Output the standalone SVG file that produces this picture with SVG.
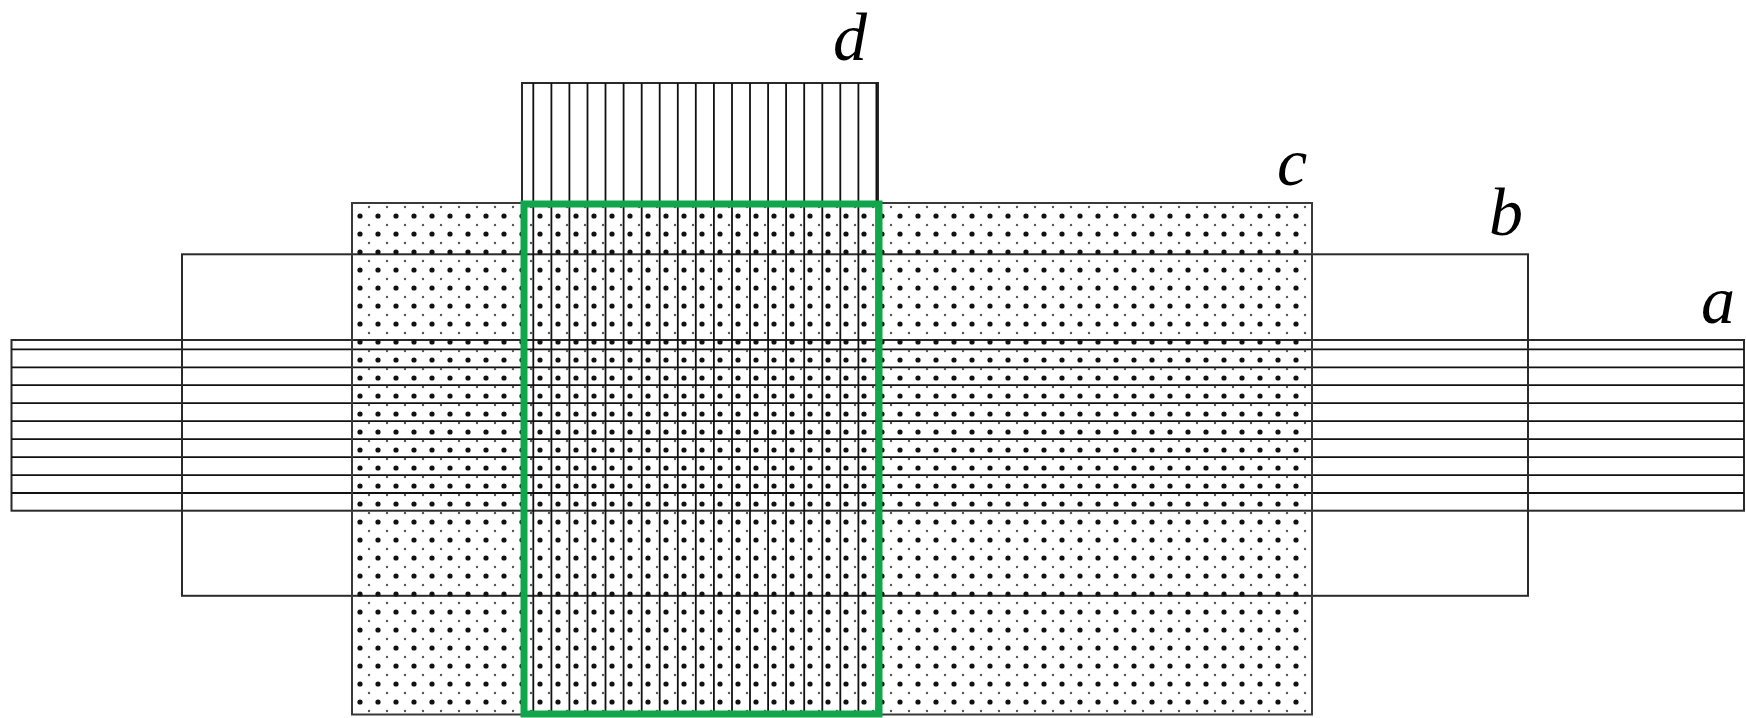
<svg xmlns="http://www.w3.org/2000/svg" width="1746" height="718" viewBox="0 0 1746 718">
<style>
.edge{fill:none;stroke:#2a2a2a;stroke-width:2}
.hatch{stroke:#111;stroke-width:1.8}
.lbl{font-family:"Liberation Serif","DejaVu Serif",serif;font-style:italic;font-size:68px;fill:#000;text-anchor:middle}
</style>
<defs>
<pattern id="dots" x="360" y="216" width="18" height="18" patternUnits="userSpaceOnUse">
<circle cx="0" cy="0" r="2.6" fill="#111"/>
<circle cx="18" cy="0" r="2.6" fill="#111"/>
<circle cx="0" cy="18" r="2.6" fill="#111"/>
<circle cx="18" cy="18" r="2.6" fill="#111"/>
<circle cx="9" cy="9" r="1.2" fill="#555"/>
</pattern>
</defs>
<rect width="1746" height="718" fill="#fff"/>
<g id="node-a">
<rect class="edge" x="11.5" y="340" width="1732.5" height="170.7"/>
<g class="hatch">
<line x1="11.5" y1="349.3" x2="1744" y2="349.3"/>
<line x1="11.5" y1="367.3" x2="1744" y2="367.3"/>
<line x1="11.5" y1="385.2" x2="1744" y2="385.2"/>
<line x1="11.5" y1="403.2" x2="1744" y2="403.2"/>
<line x1="11.5" y1="421.2" x2="1744" y2="421.2"/>
<line x1="11.5" y1="439.1" x2="1744" y2="439.1"/>
<line x1="11.5" y1="457.1" x2="1744" y2="457.1"/>
<line x1="11.5" y1="475.1" x2="1744" y2="475.1"/>
<line x1="11.5" y1="493" x2="1744" y2="493"/>
</g>
<text class="lbl" x="1718" y="323">a</text>
</g>
<g id="node-b">
<rect class="edge" x="182" y="254.3" width="1346" height="341.5" stroke="#111"/>
<text class="lbl" x="1506" y="235">b</text>
</g>
<g id="node-c">
<rect x="352" y="203" width="960" height="511.5" fill="url(#dots)" stroke="#3a3a3a" stroke-width="2"/>
<text class="lbl" x="1292" y="185">c</text>
</g>
<g id="node-d">
<rect class="edge" x="522" y="83" width="356" height="631.5"/>
<g class="hatch">
<line x1="533.3" y1="83" x2="533.3" y2="714"/>
<line x1="551.4" y1="83" x2="551.4" y2="714"/>
<line x1="569.4" y1="83" x2="569.4" y2="714"/>
<line x1="587.5" y1="83" x2="587.5" y2="714"/>
<line x1="605.5" y1="83" x2="605.5" y2="714"/>
<line x1="623.6" y1="83" x2="623.6" y2="714"/>
<line x1="641.7" y1="83" x2="641.7" y2="714"/>
<line x1="659.7" y1="83" x2="659.7" y2="714"/>
<line x1="677.8" y1="83" x2="677.8" y2="714"/>
<line x1="695.8" y1="83" x2="695.8" y2="714"/>
<line x1="713.9" y1="83" x2="713.9" y2="714"/>
<line x1="732" y1="83" x2="732" y2="714"/>
<line x1="750" y1="83" x2="750" y2="714"/>
<line x1="768.1" y1="83" x2="768.1" y2="714"/>
<line x1="786.1" y1="83" x2="786.1" y2="714"/>
<line x1="804.2" y1="83" x2="804.2" y2="714"/>
<line x1="822.3" y1="83" x2="822.3" y2="714"/>
<line x1="840.3" y1="83" x2="840.3" y2="714"/>
<line x1="858.4" y1="83" x2="858.4" y2="714"/>
<line x1="876.4" y1="83" x2="876.4" y2="714"/>
</g>
<text class="lbl" x="850" y="60">d</text>
</g>
<g id="highlight">
<rect x="524" y="204" width="355" height="510" fill="none" stroke="#10a64c" stroke-width="7"/>
</g>
</svg>
